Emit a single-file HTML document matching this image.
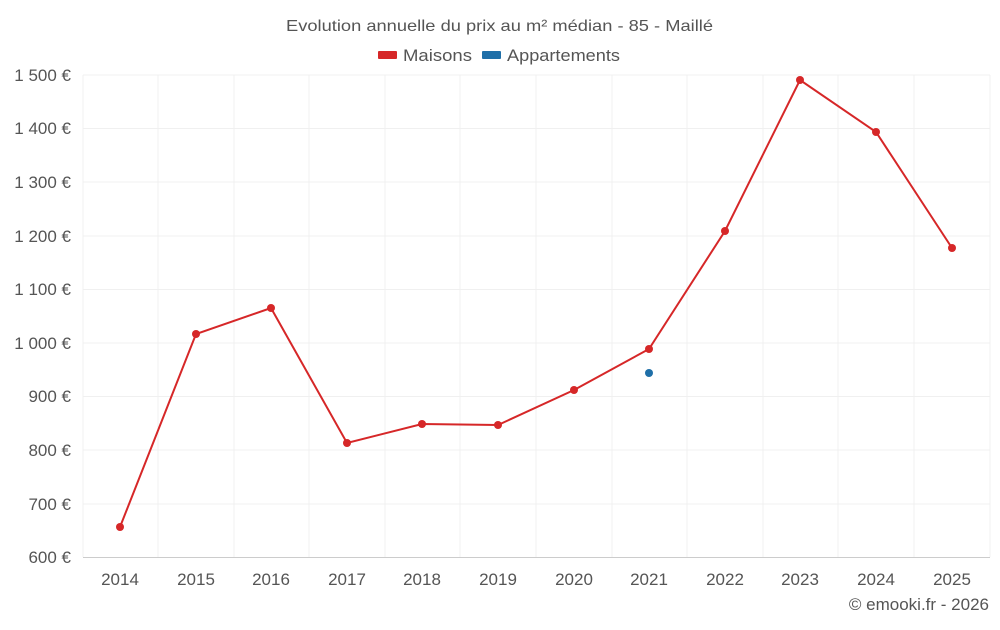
<!DOCTYPE html>
<html><head><meta charset="utf-8"><style>
body{margin:0;background:#fff;width:1000px;height:625px;overflow:hidden;font-family:"Liberation Sans",sans-serif}
</style></head><body>
<svg width="1000" height="625" xmlns="http://www.w3.org/2000/svg" font-family="Liberation Sans, sans-serif">
<text x="286" y="31" font-size="16" fill="#555" textLength="427" lengthAdjust="spacingAndGlyphs">Evolution annuelle du prix au m² médian - 85 - Maillé</text>
<rect x="378" y="51" width="19" height="8" fill="#d62728" rx="1"/>
<text x="403" y="61" font-size="17" fill="#555" textLength="69" lengthAdjust="spacingAndGlyphs">Maisons</text>
<rect x="482" y="51" width="19" height="8" fill="#1f6fa8" rx="1"/>
<text x="507" y="61" font-size="17" fill="#555" textLength="113" lengthAdjust="spacingAndGlyphs">Appartements</text>
<g stroke="#f0f0f0" stroke-width="1">
<line x1="83" x2="990" y1="75" y2="75"/><line x1="83" x2="990" y1="128.5" y2="128.5"/><line x1="83" x2="990" y1="182" y2="182"/><line x1="83" x2="990" y1="236" y2="236"/><line x1="83" x2="990" y1="289.5" y2="289.5"/><line x1="83" x2="990" y1="343" y2="343"/><line x1="83" x2="990" y1="396.5" y2="396.5"/><line x1="83" x2="990" y1="450" y2="450"/><line x1="83" x2="990" y1="504" y2="504"/>
<line y1="75" y2="557" x1="83" x2="83"/><line y1="75" y2="557" x1="158" x2="158"/><line y1="75" y2="557" x1="234" x2="234"/><line y1="75" y2="557" x1="309" x2="309"/><line y1="75" y2="557" x1="385" x2="385"/><line y1="75" y2="557" x1="460" x2="460"/><line y1="75" y2="557" x1="536" x2="536"/><line y1="75" y2="557" x1="612" x2="612"/><line y1="75" y2="557" x1="687" x2="687"/><line y1="75" y2="557" x1="763" x2="763"/><line y1="75" y2="557" x1="838" x2="838"/><line y1="75" y2="557" x1="914" x2="914"/><line y1="75" y2="557" x1="990" x2="990"/>
</g>
<line x1="83" x2="990" y1="557.5" y2="557.5" stroke="#ccc"/>
<g font-size="17" fill="#555" text-anchor="end">
<text x="71" y="81">1 500 €</text><text x="71" y="134">1 400 €</text><text x="71" y="188">1 300 €</text><text x="71" y="242">1 200 €</text><text x="71" y="295">1 100 €</text><text x="71" y="349">1 000 €</text><text x="71" y="402">900 €</text><text x="71" y="456">800 €</text><text x="71" y="510">700 €</text><text x="71" y="563">600 €</text>
</g>
<g font-size="17" fill="#555" text-anchor="middle">
<text x="120" y="585">2014</text><text x="196" y="585">2015</text><text x="271" y="585">2016</text><text x="347" y="585">2017</text><text x="422" y="585">2018</text><text x="498" y="585">2019</text><text x="574" y="585">2020</text><text x="649" y="585">2021</text><text x="725" y="585">2022</text><text x="800" y="585">2023</text><text x="876" y="585">2024</text><text x="952" y="585">2025</text>
</g>
<polyline fill="none" stroke="#d62728" stroke-width="2" points="120,527 196,334 271,308 347,443 422,424 498,425 574,390 649,349 725,231 800,80 876,132 952,248"/>
<g fill="#d62728">
<circle cx="120" cy="527" r="4"/><circle cx="196" cy="334" r="4"/><circle cx="271" cy="308" r="4"/><circle cx="347" cy="443" r="4"/><circle cx="422" cy="424" r="4"/><circle cx="498" cy="425" r="4"/><circle cx="574" cy="390" r="4"/><circle cx="649" cy="349" r="4"/><circle cx="725" cy="231" r="4"/><circle cx="800" cy="80" r="4"/><circle cx="876" cy="132" r="4"/><circle cx="952" cy="248" r="4"/>
</g>
<circle cx="649" cy="373" r="4" fill="#1f6fa8"/>
<text x="989" y="610" text-anchor="end" font-size="17" fill="#555">© emooki.fr - 2026</text>
</svg>
</body></html>
